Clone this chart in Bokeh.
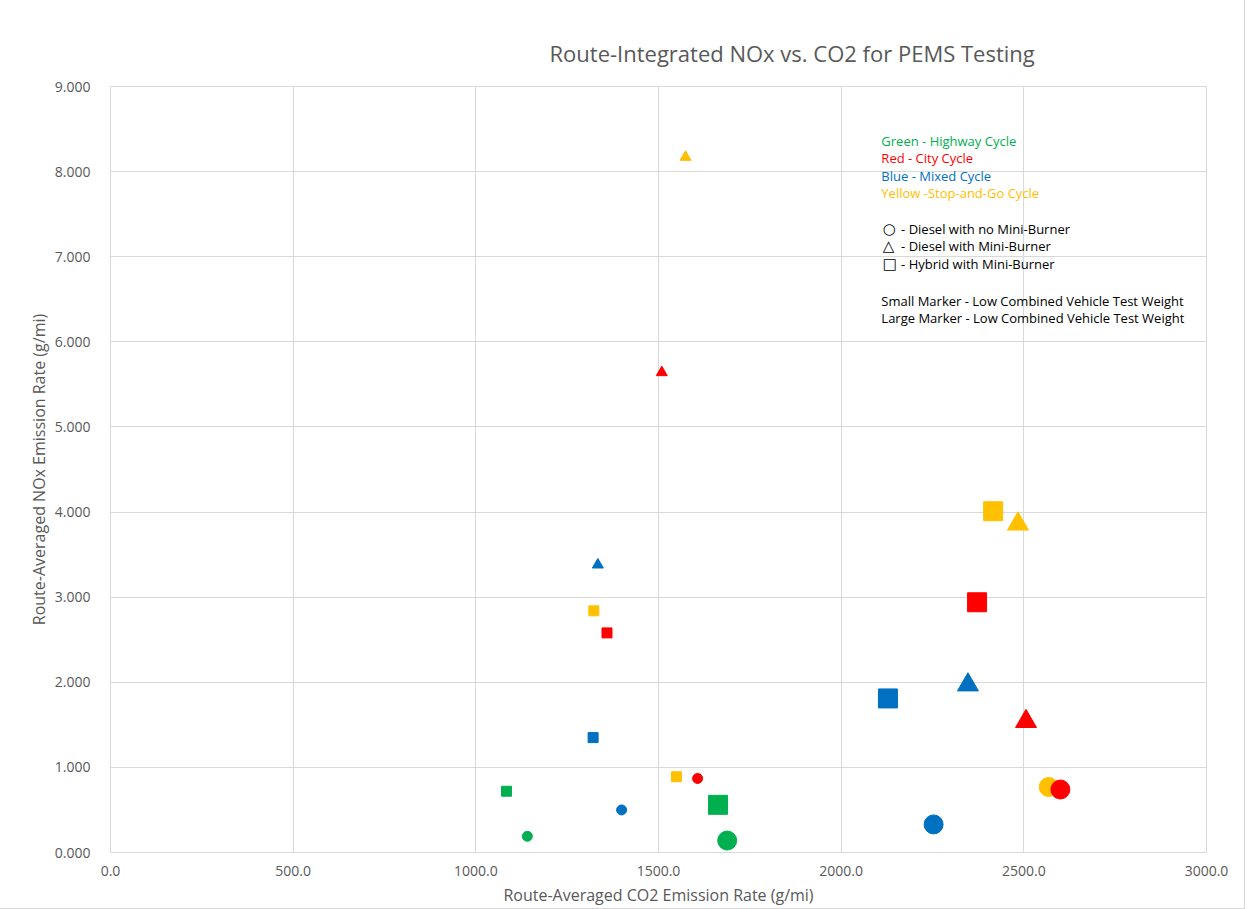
import math
from bokeh.plotting import figure
from bokeh.models import (ColumnDataSource, Range1d, FixedTicker, NumeralTickFormatter, Label)
from bokeh.embed import file_html
from bokeh.resources import INLINE

# ---- data ----
co2 = [1574, 1509, 1334, 1323, 1359, 1321, 1084, 1141, 1399, 1549, 1607,
       1663, 1688, 2128, 2253, 2347, 2372, 2416, 2484, 2506, 2568, 2600]
nox = [8.17, 5.64, 3.38, 2.84, 2.58, 1.35, 0.72, 0.19, 0.50, 0.89, 0.87,
       0.56, 0.14, 1.81, 0.33, 1.97, 2.94, 4.01, 3.86, 1.54, 0.77, 0.74]
cycle = ["Stop-and-Go", "City", "Mixed", "Stop-and-Go", "City", "Mixed", "Highway", "Highway",
         "Mixed", "Stop-and-Go", "City",
         "Highway", "Highway", "Mixed", "Mixed", "Mixed", "City", "Stop-and-Go", "Stop-and-Go",
         "City", "Stop-and-Go", "City"]
engine = ["mini", "mini", "mini", "hybrid", "hybrid", "hybrid", "hybrid", "none",
          "none", "hybrid", "none",
          "hybrid", "none", "hybrid", "none", "mini", "hybrid", "hybrid", "mini",
          "mini", "none", "none"]
weight = ["small"] * 11 + ["large"] * 11

x_ticks = [0, 500, 1000, 1500, 2000, 2500, 3000]
y_ticks = [0, 1, 2, 3, 4, 5, 6, 7, 8, 9]

legend_cycle_lines = ["Green - Highway Cycle", "Red - City Cycle", "Blue - Mixed Cycle",
                      "Yellow -Stop-and-Go Cycle"]
legend_marker_symbols = ["○", "△", "□"]
legend_marker_lines = ["- Diesel with no Mini-Burner", "- Diesel with Mini-Burner",
                       "- Hybrid with Mini-Burner"]
legend_size_lines = ["Small Marker - Low Combined Vehicle Test Weight",
                     "Large Marker - Low Combined Vehicle Test Weight"]

# ---- styles ----
cycle_color = {"Highway": "#00B050", "City": "#FF0000", "Mixed": "#0070C0", "Stop-and-Go": "#FFC000"}
engine_marker = {"none": "circle", "mini": "triangle", "hybrid": "square"}
size_map = {("circle", "small"): 10, ("circle", "large"): 19,
            ("square", "small"): 10, ("square", "large"): 19,
            ("triangle", "small"): 11, ("triangle", "large"): 21}

markers = [engine_marker[e] for e in engine]
src = ColumnDataSource(dict(
    x=co2, y=nox,
    color=[cycle_color[c] for c in cycle],
    marker=markers,
    size=[size_map[(m, w)] for m, w in zip(markers, weight)],
))

FONT = "Open Sans"
GREY = "#595959"

p = figure(width=1244, height=908, output_backend="svg", toolbar_location=None,
           x_range=Range1d(0, 3000), y_range=Range1d(0, 9),
           min_border_left=110, min_border_right=38, min_border_top=86, min_border_bottom=53)

p.styles = {"outline": "1px solid #D9D9D9"}

p.title.text = "Route-Integrated NOx vs. CO2 for PEMS Testing"
p.title.text_font = FONT
p.title.text_font_size = "22px"
p.title.text_font_style = "normal"
p.title.text_color = GREY
p.title.align = "left"
p.title.offset = 439
p.title.standoff = 38

p.outline_line_color = "#D9D9D9"
p.xgrid.grid_line_color = "#D9D9D9"
p.ygrid.grid_line_color = "#D9D9D9"

p.xaxis.ticker = FixedTicker(ticks=x_ticks)
p.yaxis.ticker = FixedTicker(ticks=y_ticks)
p.xaxis.formatter = NumeralTickFormatter(format="0.0")
p.yaxis.formatter = NumeralTickFormatter(format="0.000")

for ax in (p.xaxis, p.yaxis):
    ax.axis_line_color = None
    ax.major_tick_line_color = None
    ax.minor_tick_line_color = None
    ax.major_label_text_font = FONT
    ax.major_label_text_font_size = "14px"
    ax.major_label_text_color = GREY
    ax.axis_label_text_font = FONT
    ax.axis_label_text_font_size = "16px"
    ax.axis_label_text_font_style = "normal"
    ax.axis_label_text_color = GREY

p.xaxis.major_label_standoff = 7
p.xaxis.axis_label = "Route-Averaged CO2 Emission Rate (g/mi)"
p.xaxis.axis_label_standoff = 5
p.yaxis.major_label_standoff = 14
p.yaxis.axis_label = "Route-Averaged NOx Emission Rate (g/mi)"
p.yaxis.axis_label_standoff = 2

p.scatter("x", "y", source=src, marker="marker", size="size",
          fill_color="color", line_color="color")

# text legend
lx = 2110
step = 0.205
cycle_cols = ["#00B050", "#FF0000", "#0070C0", "#FFC000"]
LFS = "13px"
y0 = 8.36
for i, (t, c) in enumerate(zip(legend_cycle_lines, cycle_cols)):
    p.add_layout(Label(x=lx, y=y0 - i * step, text=t, text_baseline="middle",
                       text_font=FONT, text_font_size=LFS, text_color=c))
y1 = 7.33
for i, (s, t) in enumerate(zip(legend_marker_symbols, legend_marker_lines)):
    p.add_layout(Label(x=lx + 4, y=y1 - i * step, text=s, text_baseline="middle",
                       text_font="DejaVu Sans", text_font_size="15px", text_font_style="bold",
                       text_color="#000000"))
    p.add_layout(Label(x=lx + 54, y=y1 - i * step, text=t, text_baseline="middle",
                       text_font=FONT, text_font_size=LFS, text_color="#000000"))
y2 = 6.48
for i, t in enumerate(legend_size_lines):
    p.add_layout(Label(x=lx, y=y2 - i * step, text=t, text_baseline="middle",
                       text_font=FONT, text_font_size=LFS, text_color="#000000"))

open("out.html", "w").write(file_html(p, INLINE))
